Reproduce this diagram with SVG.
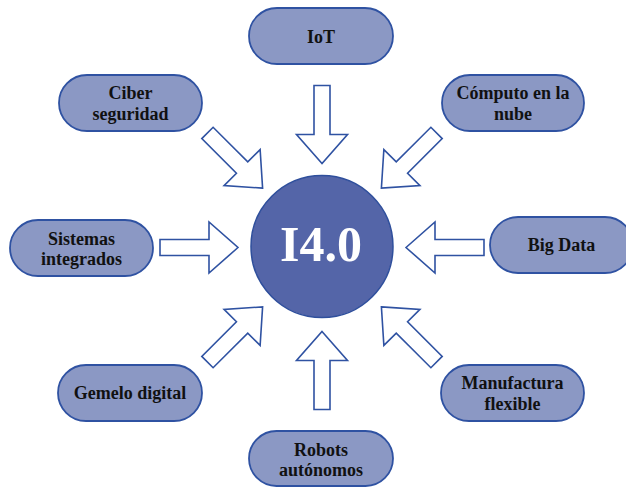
<svg xmlns="http://www.w3.org/2000/svg" xmlns:xlink="http://www.w3.org/1999/xlink" width="626" height="487" viewBox="0 0 626 487">
<style>
.node rect{fill:#8b98c4;stroke:#2f52a2;stroke-width:1.8}
.node text{font-family:"Liberation Serif","Times New Roman",serif;font-weight:bold;font-size:18px;fill:#111;text-anchor:middle}
.arrow{fill:#fff;stroke:#2f52a2;stroke-width:1.6;stroke-linejoin:miter}
#hub circle{fill:#5465a8;stroke:#2f4f9c;stroke-width:1.5}
#hub text{font-family:"Liberation Serif","Times New Roman",serif;font-weight:bold;font-size:50px;fill:#fff;text-anchor:middle}
</style>
<defs>
<path id="arr" class="arrow" d="M0,0 L29,-25.5 L29,-8 L78,-8 L78,8 L29,8 L29,25.5 Z"/>
</defs>
<rect width="626" height="487" fill="#fff"/>
<g id="connectors">
<use xlink:href="#arr" transform="translate(322,247.5) rotate(-90) translate(84,0)"/>
<use xlink:href="#arr" transform="translate(322,247.5) rotate(-45) translate(84,0)"/>
<use xlink:href="#arr" transform="translate(322,247.5) rotate(0) translate(84,0)"/>
<use xlink:href="#arr" transform="translate(322,247.5) rotate(45) translate(84,0)"/>
<use xlink:href="#arr" transform="translate(322,247.5) rotate(90) translate(84,0)"/>
<use xlink:href="#arr" transform="translate(322,247.5) rotate(135) translate(84,0)"/>
<use xlink:href="#arr" transform="translate(322,247.5) rotate(180) translate(84,0)"/>
<use xlink:href="#arr" transform="translate(322,247.5) rotate(-135) translate(84,0)"/>
</g>
<g id="hub">
<circle cx="322" cy="246.5" r="71"/>
<text x="321" y="261">I4.0</text>
</g>
<g id="iot" class="node"><rect x="249" y="8" width="144" height="56" rx="28"/><text x="321" y="43">IoT</text></g>
<g id="ciber" class="node"><rect x="59" y="75" width="143" height="56" rx="28"/><text x="130.5" y="99">Ciber</text><text x="130.5" y="119.5">seguridad</text></g>
<g id="computo" class="node"><rect x="442" y="75" width="142" height="56" rx="28"/><text x="513" y="99">Cómputo en la</text><text x="513" y="119.5">nube</text></g>
<g id="sistemas" class="node"><rect x="10" y="220" width="143" height="56" rx="28"/><text x="81.5" y="244.5">Sistemas</text><text x="81.5" y="265">integrados</text></g>
<g id="bigdata" class="node"><rect x="490" y="217" width="143" height="56" rx="28"/><text x="561.5" y="251">Big Data</text></g>
<g id="gemelo" class="node"><rect x="58" y="365" width="144" height="56" rx="28"/><text x="130" y="399">Gemelo digital</text></g>
<g id="manufactura" class="node"><rect x="441" y="365" width="143" height="56" rx="28"/><text x="512.5" y="389">Manufactura</text><text x="512.5" y="409.5">flexible</text></g>
<g id="robots" class="node"><rect x="249" y="431" width="144" height="55" rx="27.5"/><text x="321" y="455.5">Robots</text><text x="321" y="476">autónomos</text></g>
</svg>
